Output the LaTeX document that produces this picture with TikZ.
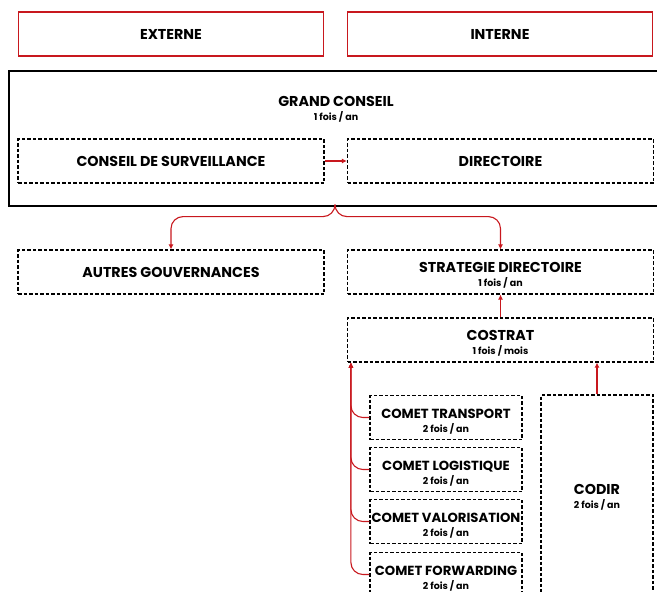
\documentclass[tikz,border=0pt]{standalone}
\usepackage{fontspec}
\setmainfont{Poppins}
\usetikzlibrary{arrows.meta}
\definecolor{rouge}{RGB}{200,24,30}
\newcommand{\titre}{\fontsize{14.3}{16}\selectfont\bfseries}
\newcommand{\titrecomet}{\fontsize{13.2}{16}\selectfont\bfseries}
\newcommand{\petit}{\fontsize{9.5}{11}\selectfont\bfseries}
\newcommand{\deux}[2]{\rule{0pt}{17pt}#1\\[-2pt]{\petit #2}}
\begin{document}
\begin{tikzpicture}[x=1pt,y=-1pt]
\tikzset{cadre/.style={draw=rouge, line width=1.7pt, minimum width=305pt, minimum height=44pt, inner sep=0pt, font=\titre},
boite/.style={draw, dashed, dash pattern=on 3.5pt off 2pt, line width=1.2pt, minimum width=306pt, minimum height=44pt, inner sep=0pt, align=center, font=\titre},
comet/.style={boite, minimum width=152pt, minimum height=44pt, font=\titrecomet},
fleche/.style={draw=rouge, line width=1.1pt, -{Latex[length=5pt,width=5pt]}, rounded corners=12pt}}
\clip (0,0) rectangle (657,592);
\node[cadre] (ext) at (171,34) {EXTERNE};
\node[cadre] (int) at (500,34) {INTERNE};
\node[draw, line width=1.2pt, minimum width=652pt, minimum height=135pt, inner sep=0pt] (gc) at (335,138.5) {};
\node[align=center, font=\titre] (gctitre) at (336,106) {\deux{GRAND CONSEIL}{1 fois / an}};
\node[boite] (cds) at (171,161) {CONSEIL DE SURVEILLANCE};
\node[boite] (dir) at (500.5,161) {DIRECTOIRE};
\node[boite] (autres) at (171,272) {AUTRES GOUVERNANCES};
\node[boite] (strat) at (500.5,272) {\deux{STRATEGIE DIRECTOIRE}{1 fois / an}};
\node[boite] (costrat) at (500.5,340) {\deux{COSTRAT}{1 fois / mois}};
\node[comet] (ctrans) at (446,417.5) {\deux{COMET TRANSPORT}{2 fois / an}};
\node[comet] (clog) at (446,469.5) {\deux{COMET LOGISTIQUE}{2 fois / an}};
\node[comet] (cval) at (446,521.5) {\deux{COMET VALORISATION}{2 fois / an}};
\node[comet] (cfwd) at (446,574.5) {\deux{COMET FORWARDING}{2 fois / an}};
\node[boite, minimum width=112pt, minimum height=198pt] (codir) at (597,494) {\deux{CODIR}{2 fois / an}};
\coordinate (entree) at ([xshift=4pt]costrat.south west);
\draw[fleche] (cds) -- (dir);
\draw[fleche] (gc.south) -- ++(0,10) -| (autres.north);
\draw[fleche] (gc.south) -- ++(0,10) -| (strat.north);
\draw[fleche] (costrat) -- (strat);
\draw[fleche] (codir.north) -- (codir.north |- costrat.south);
\draw[fleche] (ctrans.west) -| (entree);
\draw[fleche] (clog.west) -| (entree);
\draw[fleche] (cval.west) -| (entree);
\draw[fleche] (cfwd.west) -| (entree);
\end{tikzpicture}
\end{document}
